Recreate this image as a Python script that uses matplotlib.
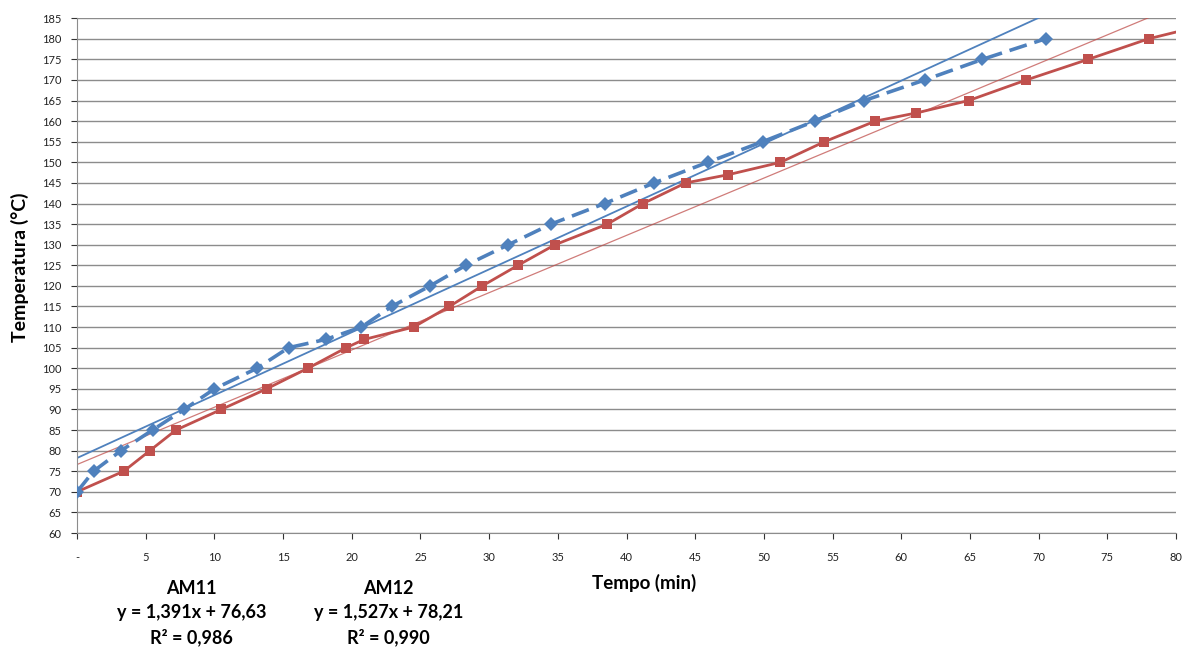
import matplotlib
matplotlib.use("Agg")
import matplotlib.pyplot as plt
import numpy as np

plt.rcParams["font.family"] = ["Lato", "DejaVu Sans"]

# AM12 (blue, dashed)
am12_t = [0, 1.2, 3.2, 5.5, 7.8, 10.0, 13.1, 15.4, 18.1, 20.7, 22.9, 25.7, 28.3,
          31.4, 34.5, 38.4, 42.0, 45.9, 49.9, 53.7, 57.3, 61.7, 65.9, 70.5]
am12_temp = [70, 75, 80, 85, 90, 95, 100, 105, 107, 110, 115, 120, 125,
             130, 135, 140, 145, 150, 155, 160, 165, 170, 175, 180]

# AM11 (red, solid)
am11_t = [0, 3.4, 5.3, 7.2, 10.5, 13.8, 16.8, 19.6, 20.9, 24.5, 27.1, 29.5, 32.1,
          34.8, 38.6, 41.2, 44.3, 47.4, 51.2, 54.4, 58.1, 61.1, 64.9, 69.1,
          73.6, 78.0, 83.5]
am11_temp = [70, 75, 80, 85, 90, 95, 100, 105, 107, 110, 115, 120, 125,
             130, 135, 140, 145, 147, 150, 155, 160, 162, 165, 170,
             175, 180, 184.5]

# trend line coefficients (slope, intercept)
am11_fit = [1.391, 76.63]
am12_fit = [1.527, 78.21]

x_ticks = list(range(0, 81, 5))
x_labels = ["-"] + [str(v) for v in x_ticks[1:]]
y_ticks = list(range(60, 186, 5))

blue = "#4F81BD"
red = "#C0504D"

fig = plt.figure(figsize=(11.89, 6.5), dpi=100)
ax = fig.add_axes([0.0648, 0.18, 0.9243, 0.792])

xs = np.linspace(0, 80, 200)
ax.plot(xs, am12_fit[0] * xs + am12_fit[1], color=blue, lw=1.3, zorder=2)
ax.plot(xs, am11_fit[0] * xs + am11_fit[1], color=red, lw=0.9, alpha=0.75, zorder=2)

ax.plot(am11_t, am11_temp, color=red, lw=2, marker="s", ms=7,
        markeredgewidth=0, zorder=3)
ax.plot(am12_t, am12_temp, color=blue, lw=2.6, ls=(0, (5, 2.2)), marker="D",
        ms=7, markeredgewidth=0, zorder=4)

ax.set_xlim(0, 80)
ax.set_ylim(60, 185)
ax.set_xticks(x_ticks)
ax.set_xticklabels(x_labels)
ax.set_yticks(y_ticks)
ax.tick_params(axis="both", labelsize=8, colors="#333333", length=4,
               width=0.8, pad=7)
ax.tick_params(axis="x", pad=10)
for lab in ax.get_xticklabels() + ax.get_yticklabels():
    lab.set_color("#222222")

ax.grid(axis="y", color="#8c8c8c", lw=1)
ax.set_axisbelow(True)
for side in ["top", "right"]:
    ax.spines[side].set_visible(False)
for side in ["left", "bottom"]:
    ax.spines[side].set_color("#8c8c8c")

fig.text(0.017, 0.589, "Temperatura (°C)", rotation=90, ha="center", va="center",
         fontsize=14, fontweight="bold")

fig.text(0.542, 0.103, "Tempo (min)", ha="center", va="center",
         fontsize=13.5, fontweight="bold")

eq_style = dict(ha="center", va="top", fontsize=13, fontweight="bold",
                linespacing=1.5)
fig.text(0.161, 0.108, "AM11\ny = 1,391x + 76,63\nR² = 0,986", **eq_style)
fig.text(0.327, 0.108, "AM12\ny = 1,527x + 78,21\nR² = 0,990", **eq_style)

fig.savefig("out.png", dpi=100)
plt.close(fig)
